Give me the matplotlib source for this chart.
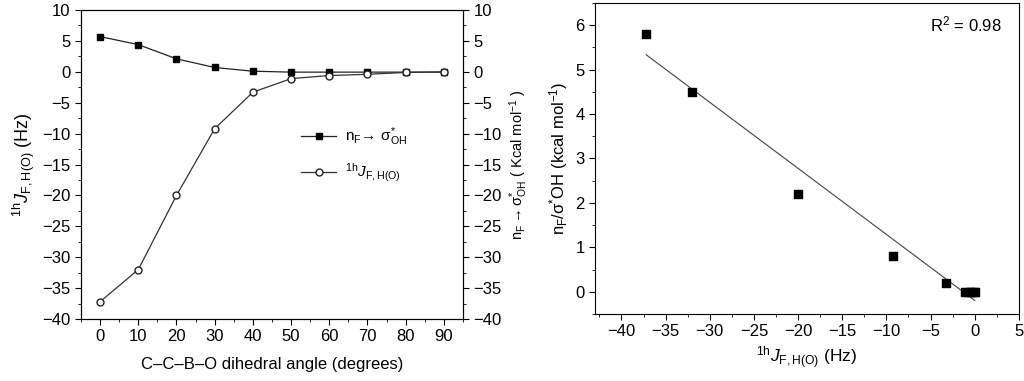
import numpy as np
import matplotlib
matplotlib.use("Agg")
import matplotlib.pyplot as plt
from matplotlib.ticker import MultipleLocator

plt.rcParams['font.family'] = ['Liberation Sans', 'DejaVu Sans']
plt.rcParams['mathtext.fontset'] = 'custom'
plt.rcParams['mathtext.rm'] = 'Liberation Sans'
plt.rcParams['mathtext.it'] = 'Liberation Sans:italic'
plt.rcParams['mathtext.bf'] = 'Liberation Sans:bold'

# Data
angles = [0, 10, 20, 30, 40, 50, 60, 70, 80, 90]
nbo_energy = [5.7, 4.4, 2.1, 0.7, 0.1, -0.05, -0.05, -0.05, -0.05, -0.05]
j_coupling = [-37.2, -32.0, -20.0, -9.2, -3.3, -1.1, -0.6, -0.4, -0.1, 0.0]

corr_j = [-37.2, -32.0, -20.0, -9.3, -3.3, -1.1, -0.6, -0.4, -0.1, 0.0]
corr_e = [5.8, 4.5, 2.2, 0.8, 0.2, 0.0, 0.0, 0.0, 0.0, 0.0]
r2_text = "R$^2$ = 0.98"

TICK = 12

fig = plt.figure(figsize=(10.24, 3.81), dpi=100)

# ---- Left panel ----
ax = fig.add_axes([0.0791, 0.1627, 0.373, 0.811])
ax.plot(angles, nbo_energy, color='#222222', lw=0.9, marker='s', ms=4.5,
        mfc='black', mec='black', label=r'$\mathregular{n_F\!\rightarrow\,\sigma^{*}_{OH}}$')
ax.plot(angles, j_coupling, color='#333333', lw=0.9, marker='o', ms=5,
        mfc='white', mec='#222222', label=r'$^{\mathregular{1h}}J_{\mathregular{F,H(O)}}$')
ax.set_xlim(-5, 95)
ax.set_ylim(-40, 10)
ax.xaxis.set_major_locator(MultipleLocator(10))
ax.xaxis.set_minor_locator(MultipleLocator(5))
ax.yaxis.set_major_locator(MultipleLocator(5))
ax.yaxis.set_minor_locator(MultipleLocator(2.5))
ax.tick_params(which='both', direction='out', labelsize=TICK)
ax.tick_params(which='major', length=4)
ax.tick_params(which='minor', length=2.5)
ax.set_xlabel('C\u2013C\u2013B\u2013O dihedral angle (degrees)', fontsize=12, labelpad=9)
ax.set_ylabel(r'$^{\mathregular{1h}}J_{\mathregular{F,H(O)}}$ (Hz)', fontsize=13)
ax.legend(loc='upper left', bbox_to_anchor=(0.54, 0.67), frameon=False,
          fontsize=11, handlelength=2.3, labelspacing=0.9, handletextpad=0.6)

ax2 = ax.twinx()
ax2.set_ylim(-40, 10)
ax2.yaxis.set_major_locator(MultipleLocator(5))
ax2.yaxis.set_minor_locator(MultipleLocator(2.5))
ax2.tick_params(which='both', direction='out', labelsize=TICK)
ax2.tick_params(which='major', length=4)
ax2.tick_params(which='minor', length=2.5)
ax2.set_ylabel(r'$\mathregular{n_F \rightarrow \sigma^{*}_{OH}}$ ( Kcal mol$^{-1}$ )', fontsize=10.5)

# ---- Right panel ----
bx = fig.add_axes([0.581, 0.176, 0.414, 0.816])
bx.scatter(corr_j, corr_e, marker='s', s=28, color='black', zorder=3)
coef = np.polyfit(corr_j, corr_e, 1)
xs = np.array([min(corr_j), max(corr_j)])
bx.plot(xs, np.polyval(coef, xs), color='#444444', lw=0.8)
bx.set_xlim(-43, 5)
bx.set_ylim(-0.5, 6.5)
bx.xaxis.set_major_locator(MultipleLocator(5))
bx.xaxis.set_minor_locator(MultipleLocator(2.5))
bx.yaxis.set_major_locator(MultipleLocator(1))
bx.yaxis.set_minor_locator(MultipleLocator(0.5))
bx.tick_params(which='both', direction='out', labelsize=TICK)
bx.tick_params(which='major', length=4)
bx.tick_params(which='minor', length=2.5)
bx.set_xlabel(r'$^{\mathregular{1h}}J_{\mathregular{F,H(O)}}$ (Hz)', fontsize=12.5)
bx.set_ylabel(r'$\mathregular{n_F/\sigma^{*}OH}$ (kcal mol$^{-1}$)', fontsize=12)
bx.text(0.96, 0.93, r2_text, transform=bx.transAxes, ha='right', va='center', fontsize=12)

fig.savefig('out.png', dpi=100)
